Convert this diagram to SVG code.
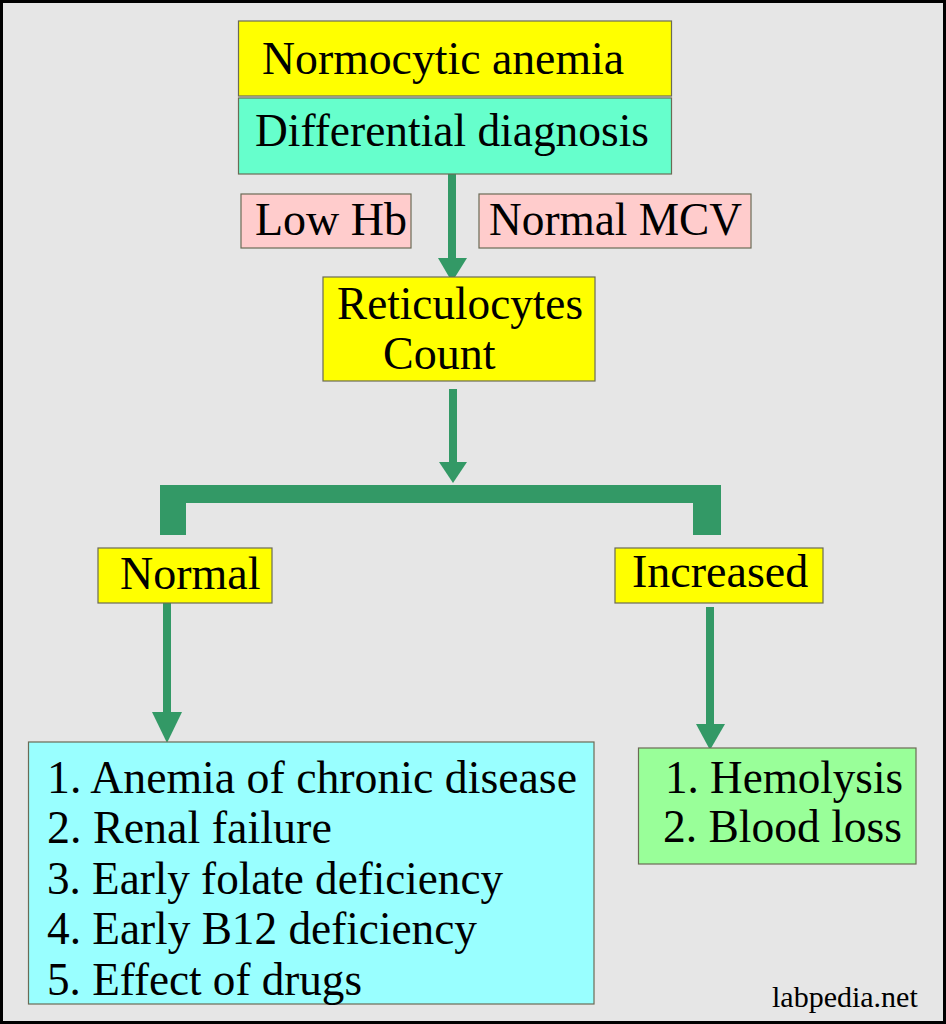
<svg xmlns="http://www.w3.org/2000/svg" width="946" height="1024" viewBox="0 0 946 1024">
<defs>
<style>
.t{font-family:"Liberation Serif","Times New Roman",serif;font-size:46px;fill:#000}
.box{stroke:#6b6b55;stroke-width:1.2}
.ln{stroke:#339966;stroke-width:8;fill:none}
.ah{fill:#339966}
</style>
</defs>
<rect x="1.5" y="1.5" width="943" height="1021" fill="#E6E6E6" stroke="#000" stroke-width="3"/>
<g id="connectors">
<line class="ln" x1="452" y1="174" x2="452" y2="262"/>
<polygon class="ah" points="438,258 467,258 452,282"/>
<line class="ln" x1="453" y1="389" x2="453" y2="466"/>
<polygon class="ah" points="439,462 467,462 453,483"/>
<path d="M160,485 H721 V535 H693 V503 H186 V535 H160 Z" fill="#339966"/>
<line class="ln" x1="167" y1="602" x2="167" y2="716"/>
<polygon class="ah" points="152,712 182,712 167,743"/>
<line class="ln" x1="710" y1="607" x2="710" y2="728"/>
<polygon class="ah" points="696,724 725,724 710,750"/>
</g>
<g id="normocytic">
<rect class="box" x="238.5" y="21" width="433" height="75" fill="#FFFF00"/>
<text class="t" x="262" y="74" textLength="362" lengthAdjust="spacingAndGlyphs">Normocytic anemia</text>
</g>
<g id="differential">
<rect class="box" x="238.5" y="98" width="433" height="76" fill="#66FFCC"/>
<text class="t" x="255" y="146" textLength="394" lengthAdjust="spacingAndGlyphs">Differential diagnosis</text>
</g>
<g id="lowhb">
<rect class="box" x="241" y="194" width="170" height="54" fill="#FFCCCC"/>
<text class="t" x="255" y="235">Low Hb</text>
</g>
<g id="normalmcv">
<rect class="box" x="479" y="194" width="272" height="54" fill="#FFCCCC"/>
<text class="t" x="489" y="235" textLength="253" lengthAdjust="spacingAndGlyphs">Normal MCV</text>
</g>
<g id="reticulocytes">
<rect class="box" x="323" y="277" width="272" height="104" fill="#FFFF00"/>
<text class="t" x="337" y="319" textLength="246" lengthAdjust="spacingAndGlyphs">Reticulocytes</text>
<text class="t" x="383" y="369">Count</text>
</g>
<g id="normal">
<rect class="box" x="98" y="548" width="174" height="55" fill="#FFFF00"/>
<text class="t" x="120" y="589">Normal</text>
</g>
<g id="increased">
<rect class="box" x="615" y="548" width="208" height="55" fill="#FFFF00"/>
<text class="t" x="632" y="587">Increased</text>
</g>
<g id="normal-causes">
<rect class="box" x="28.5" y="742" width="565.5" height="262" fill="#99FFFF"/>
<text class="t" x="47" y="793" textLength="530" lengthAdjust="spacingAndGlyphs">1. Anemia of chronic disease</text>
<text class="t" x="47" y="843">2. Renal failure</text>
<text class="t" x="47" y="894" textLength="456" lengthAdjust="spacingAndGlyphs">3. Early folate deficiency</text>
<text class="t" x="47" y="944" textLength="430" lengthAdjust="spacingAndGlyphs">4. Early B12 deficiency</text>
<text class="t" x="47" y="995" textLength="315" lengthAdjust="spacingAndGlyphs">5. Effect of drugs</text>
</g>
<g id="increased-causes">
<rect class="box" x="638.5" y="748" width="277.5" height="116" fill="#99FF99"/>
<text class="t" x="665" y="793" textLength="238" lengthAdjust="spacingAndGlyphs">1. Hemolysis</text>
<text class="t" x="663" y="842" textLength="239" lengthAdjust="spacingAndGlyphs">2. Blood loss</text>
</g>
<text x="772" y="1007" font-family="Liberation Serif, Times New Roman, serif" font-size="30" fill="#000">labpedia.net</text>
</svg>
